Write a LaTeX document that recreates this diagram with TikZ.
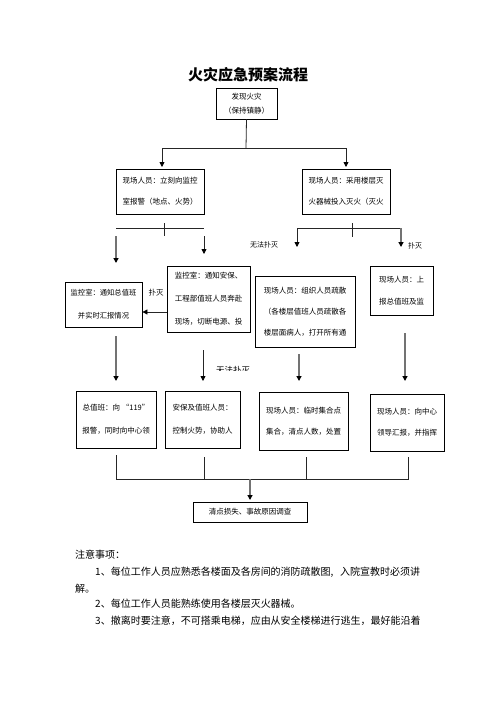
\documentclass[tikz,border=0pt]{standalone}
\usepackage{fontspec}
\setmainfont{Noto Sans CJK SC}
\usetikzlibrary{arrows.meta}
\begin{document}
\begin{tikzpicture}[x=1pt,y=-1pt,
 box/.style={draw=black,line width=0.8pt,inner sep=0pt,align=center,font=\fontsize{7.5}{21}\selectfont},
 ln/.style={line width=0.8pt,draw=black!85},
 gl/.style={line width=1.6pt,draw=black!55},
 arr/.style={-{Triangle[length=5pt,width=5pt,color=black]}},
 lbl/.style={inner sep=0pt,font=\fontsize{7.5}{9}\selectfont},
 note/.style={inner sep=0pt,anchor=west,font=\fontsize{10}{12}\selectfont}]
\useasboundingbox[fill=white] (0,0) rectangle (496,702);
% title
\node[inner sep=0pt,font=\fontsize{15}{18}\selectfont\bfseries] (title) at (248,75) {火灾应急预案流程};
% boxes
\node[box,minimum width=61pt,minimum height=31pt,font=\fontsize{7.5}{14}\selectfont] (b1) at (246.5,103.5) {发现火灾\\（保持镇静）};
\node[box,minimum width=88pt,minimum height=45pt] (b2) at (160,191.5) {现场人员：立刻向监控\\室报警（地点、火势）};
\node[box,minimum width=88pt,minimum height=45pt] (b3) at (346,191.5) {现场人员：采用楼层灭\\火器械投入灭火（灭火};
\node[box,minimum width=77pt,minimum height=45pt,font=\fontsize{7.3}{23}\selectfont] (b4) at (103.5,304.5) {监控室：通知总值班\\并实时汇报情况};
\node[box,minimum width=83pt,minimum height=66pt,font=\fontsize{7.5}{23}\selectfont] (b5) at (208.5,299) {监控室：通知安保、\\工程部值班人员奔赴\\现场，切断电源、投};
\node[box,minimum width=100pt,minimum height=71pt,font=\fontsize{7.5}{21}\selectfont] (b6) at (305,311.5) {现场人员：组织人员疏散\\（各楼层值班人员疏散各\\楼层面病人，打开所有通};
\node[box,minimum width=63pt,minimum height=49pt,font=\fontsize{7.5}{22}\selectfont] (b7) at (401.5,290.5) {现场人员：上\\报总值班及监};
\node[box,minimum width=80pt,minimum height=57pt,font=\fontsize{7.5}{23}\selectfont] (b8) at (116,419.5) {总值班：向 “119”\\报警，同时向中心领};
\node[box,minimum width=75pt,minimum height=57pt,font=\fontsize{7.5}{23}\selectfont] (b9) at (202.5,419.5) {安保及值班人员：\\控制火势，协助人};
\node[box,minimum width=89pt,minimum height=58pt,font=\fontsize{7.5}{21}\selectfont] (b10) at (303.5,421) {现场人员：临时集合点\\集合，清点人数，处置};
\node[box,minimum width=74pt,minimum height=57pt,font=\fontsize{7.5}{21}\selectfont] (b11) at (407,422.5) {现场人员：向中心\\领导汇报，并指挥};
\node[box,minimum width=114pt,minimum height=20pt] (b12) at (250,512) {清点损失、事故原因调查};
% junction coordinates
\coordinate (j1) at (246,148);
\coordinate (j1l) at (162,167);
\coordinate (j1r) at (346,167);
% b1 tree
\draw[ln] (b1.south) -- (j1);
\draw[ln] (162,148) -- (346,148);
\draw[ln,arr] (j1) -| (j1l);
\draw[ln,arr] (j1) -| (j1r);
% below b2
\coordinate (h2l) at (116,228);
\coordinate (h2r) at (204,228);
\draw[ln] (h2l) -- (h2r);
\draw[ln] (164,223) -- (164,236);
\coordinate (a2s) at (116,236);
\coordinate (a2e) at (116,263);
\coordinate (a3s) at (204,236);
\coordinate (a3e) at (204,254);
\draw[gl,arr] (a2s) -- (a2e);
\draw[ln,arr] (a3s) -- (a3e);
% below b3
\coordinate (h3l) at (297,228);
\coordinate (h3r) at (401,228);
\draw[ln] (h3l) -- (h3r);
\draw[ln] (352,223) -- (352,237);
\coordinate (a4e) at (297,247);
\coordinate (a5e) at (401,247);
\draw[ln,arr] (h3l) -- (a4e);
\draw[gl,arr] (h3r) -- (a5e);
\node[lbl,font=\fontsize{7}{8}\selectfont] (l1) at (264,245) {无法扑灭};
\node[lbl,font=\fontsize{7}{8}\selectfont] (l2) at (415,246) {扑灭};
% b5 -> b4
\draw[ln,arr] (b5.west |- 0,312) -- (b4.east |- 0,312);
\node[lbl] (l3) at (156,293) {扑灭};
% row 3 -> row 4
\coordinate (c1s) at (116,336); \coordinate (c1e) at (116,381);
\coordinate (c2s) at (203,350); \coordinate (c2e) at (203,381);
\coordinate (c3s) at (299,354); \coordinate (c3e) at (299,381);
\coordinate (c4s) at (405,333); \coordinate (c4e) at (405,381);
\draw[gl,arr] (c1s) -- (c1e);
\draw[ln,arr] (c2s) -- (c2e);
\draw[gl,arr] (c3s) -- (c3e);
\draw[gl,arr] (c4s) -- (c4e);
\begin{scope}
\clip (200,360) rectangle (262,370.5);
\node[lbl,font=\fontsize{8.5}{10}\selectfont] (l4) at (233,370) {无法扑灭};
\end{scope}
% bottom collection
\coordinate (k1) at (116,479);
\coordinate (k4) at (408,479);
\draw[ln] (116,455) -- (k1) -- (k4) -- (408,457);
\draw[ln] (204,457) -- (204,479);
\draw[ln] (306,457) -- (306,479);
\coordinate (ks) at (250,479);
\coordinate (ke) at (250,500);
\draw[gl,arr] (ks) -- (ke);
% notes
\node[note] (n0) at (75,555) {注意事项：};
\node[note] (n1) at (95,572) {\makebox[325pt][s]{1、每位工作人员应熟悉各楼面及各房间的消防疏散图, 入院宣教时必须讲}};
\node[note] (n1b) at (75,589) {解。};
\node[note] (n2) at (95,604) {2、每位工作人员能熟练使用各楼层灭火器械。};
\node[note] (n3) at (95,621) {3、撤离时要注意，不可搭乘电梯，应由从安全楼梯进行逃生，最好能沿着};
\end{tikzpicture}
\end{document}
